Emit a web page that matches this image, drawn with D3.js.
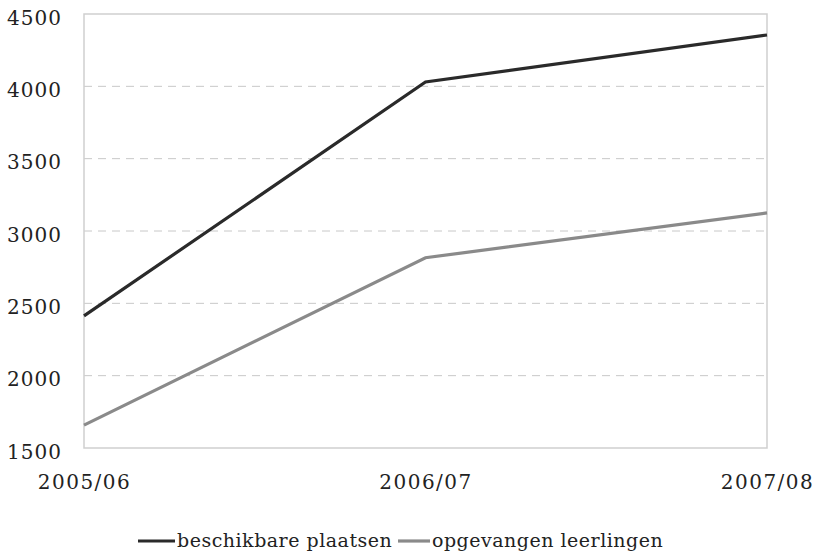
<!DOCTYPE html>
<html><head><meta charset="utf-8">
<script src="https://cdn.jsdelivr.net/npm/d3@7"></script>
<style>body{margin:0;background:#fff}</style>
</head><body>
<svg id="c" width="818" height="553"></svg>
<script>
const categories = ["2005/06", "2006/07", "2007/08"];
const seriesNames = ["beschikbare plaatsen", "opgevangen leerlingen"];
const beschikbare = [2413, 4030, 4355];
const opgevangen = [1658, 2815, 3125];
const yTicks = [1500, 2000, 2500, 3000, 3500, 4000, 4500];
const colors = ["#2a2a2a", "#8a8a8a"];

const svg = d3.select("#c");
const L = 84, R = 767, T = 14, B = 448;
const font = "DejaVu Serif, Georgia, serif";
const x = d3.scalePoint().domain(categories).range([L, R]);
const y = d3.scaleLinear().domain([1500, 4500]).range([B, T]);

// gridlines
svg.append("g").selectAll("line").data(yTicks.filter(v => v > 1500 && v < 4500)).join("line")
  .attr("x1", L).attr("x2", R).attr("y1", d => y(d)).attr("y2", d => y(d))
  .attr("stroke", "#c8c8c8").attr("stroke-width", 1).attr("stroke-dasharray", "8,6");
// frame
svg.append("rect").attr("x", L).attr("y", T).attr("width", R - L).attr("height", B - T)
  .attr("fill", "none").attr("stroke", "#cfcfcf").attr("stroke-width", 1.5);

// y axis
const ya = svg.append("g").attr("transform", `translate(${L},0)`)
  .call(d3.axisLeft(y).tickValues(yTicks).tickSize(0).tickPadding(22).tickFormat(d3.format("d")));
ya.select(".domain").remove();
ya.selectAll("text").attr("font-family", font).attr("font-size", 20).attr("fill", "#222")
  .attr("letter-spacing", 1).attr("dy", "0.5em");

// x axis
const xa = svg.append("g").attr("transform", `translate(0,${B})`)
  .call(d3.axisBottom(x).tickSize(0).tickPadding(27));
xa.select(".domain").remove();
xa.selectAll("text").attr("font-family", font).attr("font-size", 20).attr("fill", "#222")
  .attr("letter-spacing", 1.5);

const line = d3.line().x((d, i) => x(categories[i])).y(d => y(d));
[beschikbare, opgevangen].forEach((s, i) => {
  svg.append("path").attr("d", line(s)).attr("fill", "none")
    .attr("stroke", colors[i]).attr("stroke-width", 3.2);
});

// legend
const lg = svg.append("g");
const items = [{x: 138, w: 37}, {x: 398, w: 32}];
seriesNames.forEach((n, i) => {
  lg.append("line").attr("x1", items[i].x).attr("x2", items[i].x + items[i].w)
    .attr("y1", 541).attr("y2", 541).attr("stroke", colors[i]).attr("stroke-width", 3.2);
  lg.append("text").attr("x", items[i].x + items[i].w + 2).attr("y", 547)
    .attr("font-family", font).attr("font-size", 19).attr("fill", "#222")
    .attr("letter-spacing", 0.5).text(n);
});
</script>
</body></html>
